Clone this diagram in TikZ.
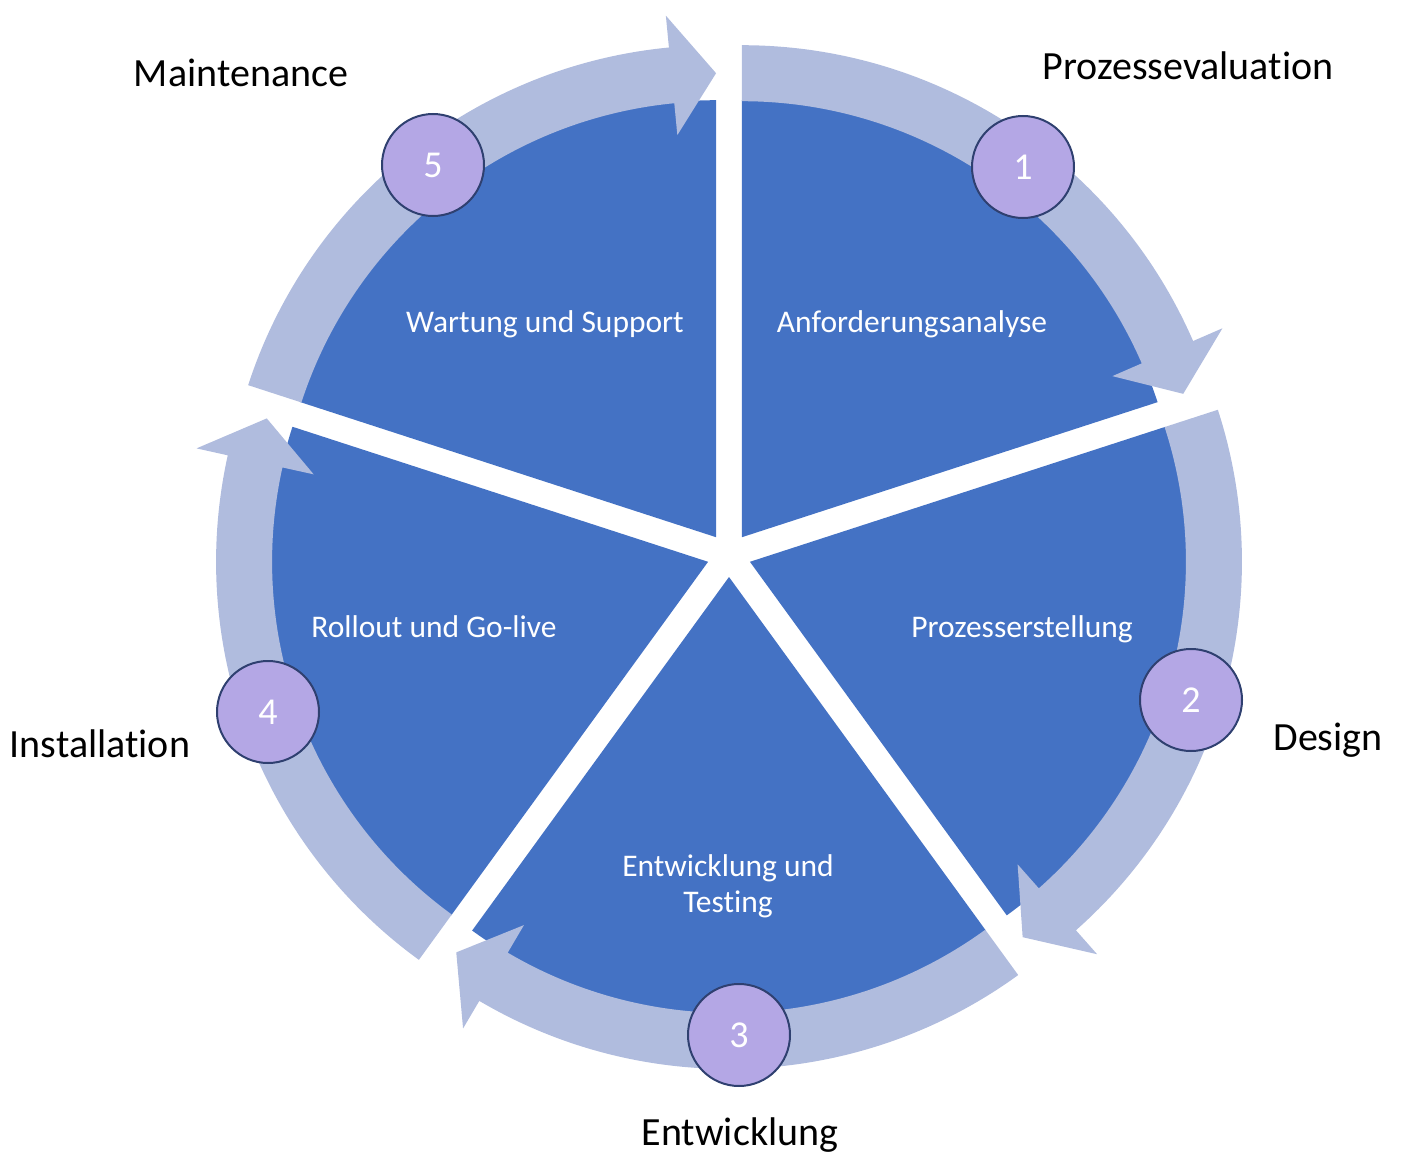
\documentclass[tikz,border=0pt]{standalone}
\usepackage{fontspec}
\setmainfont[Ligatures={NoCommon}]{Carlito}
\usetikzlibrary{calc}
\definecolor{secblue}{RGB}{68,114,196}
\definecolor{ringblue}{RGB}{176,188,222}
\definecolor{circfill}{RGB}{180,167,229}
\definecolor{circline}{RGB}{47,64,112}
\begin{document}
\begin{tikzpicture}[x=1pt,y=1pt,
  sector/.style={fill=secblue},
  ringarrow/.style={fill=ringblue},
  stepnum/.style={circle, draw=circline, line width=2pt, fill=circfill,
    minimum size=102pt, inner sep=0pt, text=white, font=\fontsize{38}{44}\selectfont},
  phase/.style={text=black, anchor=base, font=\fontsize{40}{48}\selectfont},
  inner/.style={text=white, anchor=base, font=\fontsize{31.5}{36}\selectfont}]
\useasboundingbox (0,-1153) rectangle (1401,0);
\coordinate (C) at (729,-555);
\foreach \s in {90,18,-54,-126,-198} {
  \pgfmathsetmacro\bis{\s-36}
  \pgfmathsetmacro\en{\s-72}
  \pgfmathsetmacro\bas{\en+5.5}
  \coordinate (A) at ($(C)+(\bis:22)$);
  \fill[sector] (A) -- ([shift={(A)}]\s:437)
    arc[start angle=\s, end angle=\en, radius=437] -- cycle;
  \fill[ringarrow] ([shift={(A)}]\s:436) -- ([shift={(A)}]\s:492)
    arc[start angle=\s, end angle=\bas, radius=492]
    -- ([shift={(A)}]\bas:524) -- ([shift={(A)}]\en:464)
    -- ([shift={(A)}]\bas:404) -- ([shift={(A)}]\bas:436)
    arc[start angle=\bas, end angle=\s, radius=436] -- cycle;
}
\node[stepnum] (n1) at (1023,-167) {1};
\node[stepnum] (n2) at (1191,-700) {2};
\node[stepnum] (n3) at (739,-1035) {3};
\node[stepnum] (n4) at (268,-712) {4};
\node[stepnum] (n5) at (433,-165) {5};
\node[inner] (t1) at (912,-332) {Anforderungsanalyse};
\node[inner] (t2) at (1022,-637) {Prozesserstellung};
\node[inner] (t3a) at (728,-876) {Entwicklung und};
\node[inner] (t3b) at (728,-912) {Testing};
\node[inner] (t4) at (434,-637) {Rollout und Go-live};
\node[inner] (t5) at (545,-332) {Wartung und Support};
\node[phase] (p1) at (1188,-80) {Prozessevaluation};
\node[phase] (p2) at (1328,-750) {Design};
\node[phase] (p3) at (740,-1145) {Entwicklung};
\node[phase] (p4) at (100,-757) {Installation};
\node[phase] (p5) at (241,-87) {Maintenance};
\end{tikzpicture}
\end{document}
